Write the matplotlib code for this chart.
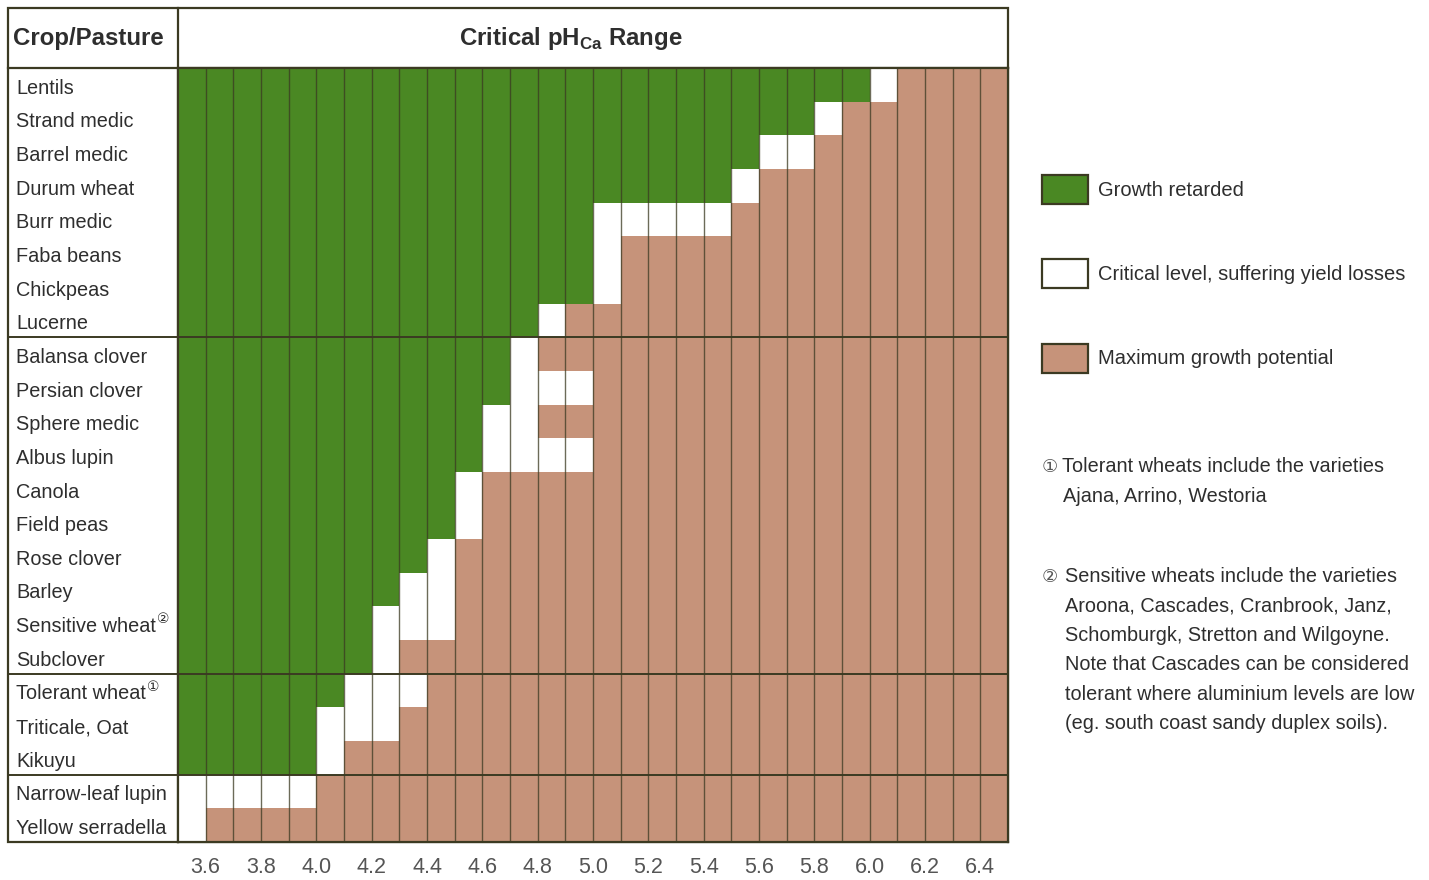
import matplotlib
matplotlib.use("Agg")
import matplotlib.pyplot as plt
import numpy as np
from matplotlib.colors import ListedColormap
from matplotlib.patches import Rectangle
from matplotlib.transforms import blended_transform_factory, IdentityTransform

# ---------------- data ----------------
crops = ["Lentils", "Strand medic", "Barrel medic", "Durum wheat", "Burr medic",
         "Faba beans", "Chickpeas", "Lucerne", "Balansa clover", "Persian clover",
         "Sphere medic", "Albus lupin", "Canola", "Field peas", "Rose clover",
         "Barley", "Sensitive wheat", "Subclover", "Tolerant wheat", "Triticale, Oat",
         "Kikuyu", "Narrow-leaf lupin", "Yellow serradella"]
# critical range (white cells): from crit_low up to crit_high (pH_Ca)
crit_low = [6.0, 5.8, 5.6, 5.5, 5.0, 5.0, 5.0, 4.8, 4.7, 4.7, 4.6, 4.6,
            4.5, 4.5, 4.4, 4.3, 4.2, 4.2, 4.1, 4.0, 4.0, 3.5, 3.5]
crit_high = [6.1, 5.9, 5.8, 5.6, 5.5, 5.1, 5.1, 4.9, 4.8, 5.0, 4.8, 5.0,
             4.6, 4.6, 4.5, 4.5, 4.5, 4.3, 4.4, 4.3, 4.1, 4.0, 3.6]
footnote_marks = {"Sensitive wheat": "②", "Tolerant wheat": "①"}
group_breaks = [8, 18, 21]
ph_edges = np.round(np.arange(35, 66) / 10.0, 1)
tick_values = [3.6, 3.8, 4.0, 4.2, 4.4, 4.6, 4.8, 5.0, 5.2, 5.4, 5.6, 5.8, 6.0, 6.2, 6.4]
legend_labels = ["Growth retarded", "Critical level, suffering yield losses",
                 "Maximum growth potential"]
note1 = ["Tolerant wheats include the varieties", "Ajana, Arrino, Westoria"]
note2 = ["Sensitive wheats include the varieties", "Aroona, Cascades, Cranbrook, Janz,",
         "Schomburgk, Stretton and Wilgoyne.", "Note that Cascades can be considered",
         "tolerant where aluminium levels are low", "(eg. south coast sandy duplex soils)."]

# ---------------- style ----------------
GREEN = "#4a8823"
WHITE = "#ffffff"
BROWN = "#c6937a"
LINE = "#3b3a22"
TXT = "#2e2e2e"
FAM = ["Liberation Sans", "DejaVu Sans"]
plt.rcParams["font.family"] = FAM

W, H = 1429, 880
fig = plt.figure(figsize=(W / 100, H / 100), dpi=100)
fig.patch.set_facecolor("white")

overlay = fig.add_axes([0, 0, 1, 1], zorder=0)
overlay.set_xlim(0, W)
overlay.set_ylim(H, 0)
overlay.axis("off")

gx0, gx1, gy0, gy1 = 178, 1008, 68, 842
ax = fig.add_axes([gx0 / W, (H - gy1) / H, (gx1 - gx0) / W, (gy1 - gy0) / H], zorder=1)
ax.patch.set_alpha(0)

n = len(crops)
centers = ph_edges[:-1] + 0.05
status = np.zeros((n, len(centers)))
for i in range(n):
    status[i] = np.where(centers < crit_low[i], 0, np.where(centers < crit_high[i], 1, 2))

cmap = ListedColormap([GREEN, WHITE, BROWN])
ax.pcolormesh(ph_edges, np.arange(n + 1), status, cmap=cmap, vmin=-0.5, vmax=2.5,
              shading="flat")
ax.set_xlim(ph_edges[0], ph_edges[-1])
ax.set_ylim(n, 0)
ax.vlines(ph_edges[1:-1], 0, n, colors=LINE, lw=1.0, alpha=0.75)

for s in ax.spines.values():
    s.set_color(LINE)
    s.set_linewidth(1.6)

ax.set_xticks(tick_values)
ax.set_xticklabels([f"{v:.1f}" for v in tick_values])
ax.tick_params(axis="x", length=0, pad=11, labelsize=15.5, labelcolor="#555555")
ax.set_yticks([])

trans = blended_transform_factory(overlay.transData, ax.transData)
for b in group_breaks:
    ax.plot([8, gx1], [b, b], transform=trans, color=LINE, lw=1.4, clip_on=False, zorder=5)

# frame & header
overlay.add_patch(Rectangle((8, 8), gx1 - 8, gy1 - 8, fill=False, ec=LINE, lw=1.6))
overlay.plot([8, gx1], [gy0, gy0], color=LINE, lw=1.6)
overlay.plot([gx0, gx0], [8, gy1], color=LINE, lw=1.6)
overlay.text(13, 39, "Crop/Pasture", fontsize=17.3, fontweight="bold", color=TXT,
             ha="left", va="center")
overlay.text(571, 39, r"Critical pH$_{\mathregular{Ca}}$ Range", fontsize=17.3,
             fontweight="bold", color=TXT, ha="center", va="center")

# row labels
labels = []
for i, c in enumerate(crops):
    t = ax.text(16, i + 0.6, c, transform=trans, fontsize=14.3, color=TXT,
                ha="left", va="center")
    labels.append((c, t))

fig.canvas.draw()
r = fig.canvas.get_renderer()
for c, t in labels:
    if c in footnote_marks:
        bb = t.get_window_extent(r)
        i = crops.index(c)
        ax.text(bb.x1 + 1, i + 0.38, footnote_marks[c],
                transform=blended_transform_factory(IdentityTransform(), ax.transData),
                fontsize=10, color=TXT, ha="left", va="center", family=["DejaVu Sans"])

# legend
leg_colors = [GREEN, WHITE, BROWN]
leg_y = [189, 273, 358]
for col, lab, y in zip(leg_colors, legend_labels, leg_y):
    overlay.add_patch(Rectangle((1042, y - 14), 46, 29, fc=col, ec=LINE, lw=1.6))
    overlay.text(1098, y + 1, lab, fontsize=14.5, color=TXT, ha="left", va="center")

# notes
overlay.text(1042, 467, "①", fontsize=13, color="#555555", ha="left", va="center",
             family=["DejaVu Sans"])
for k, line in enumerate(note1):
    overlay.text(1062 if k == 0 else 1063, 467 + k * 30, line, fontsize=14.3,
                 color=TXT, ha="left", va="center")
overlay.text(1042, 577, "②", fontsize=13, color="#555555", ha="left", va="center",
             family=["DejaVu Sans"])
for k, line in enumerate(note2):
    overlay.text(1065, 577 + k * 29.3, line, fontsize=14.3, color=TXT,
                 ha="left", va="center")

fig.savefig("out.png", dpi=100, facecolor="white")
